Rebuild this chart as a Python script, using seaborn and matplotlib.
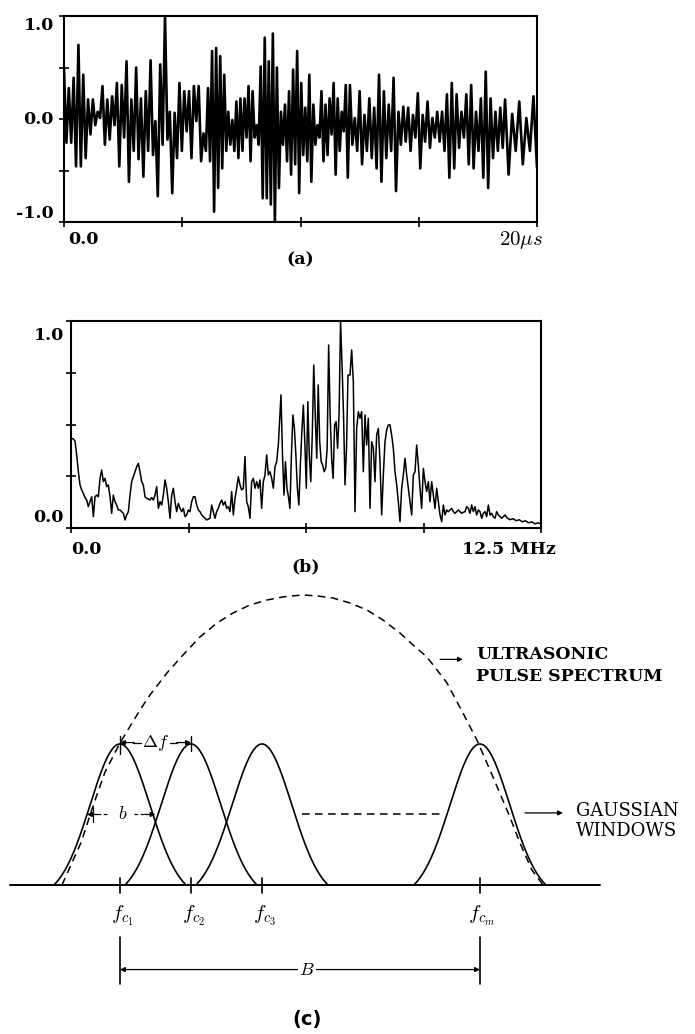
import numpy as np
import pandas as pd
import matplotlib
matplotlib.use("Agg")
import matplotlib.pyplot as plt
import seaborn as sns
from matplotlib.transforms import blended_transform_factory, ScaledTranslation

# ---------------- panel (a): ultrasonic echo (alternating peak / trough readings) ----------------
a_block_starts_us = [0.0, 6.09, 12.09, 18.65]
a_block_ends_us = [6.0, 12.0, 18.55, 20.0]
a_block1 = [0.48, -0.23, 0.30, -0.23, 0.40, -0.46, 0.72, -0.46, 0.43, -0.38, 0.19, -0.15,
            0.19, -0.06, 0.07, 0.01, 0.32, -0.25, 0.19, -0.20, 0.22, -0.06, 0.35, -0.46,
            0.33, -0.18, 0.56, -0.61, 0.19, -0.31, 0.50, -0.39, 0.20, -0.56, 0.27, -0.31,
            0.57, -0.35, -0.02, -0.75, 0.53, -0.25, 1.00, -0.20, 0.07, -0.72, 0.06, -0.38,
            0.35, -0.31, 0.27, -0.12, 0.27, -0.38, 0.32, -0.02, 0.32, -0.41, -0.14, -0.31]
a_block2 = [0.30, -0.41, 0.66, -0.90, 0.69, -0.67, 0.61, -0.48, 0.43, -0.31, 0.07, -0.25,
            -0.01, -0.31, 0.17, -0.38, 0.20, -0.31, 0.20, -0.18, 0.32, -0.41, 0.27, -0.18,
            -0.06, -0.25, 0.51, -0.77, 0.79, -0.77, 0.56, -0.83, 0.83, -1.00, 0.50, -0.67,
            0.07, -0.25, 0.14, -0.41, 0.27, -0.54, 0.48, -0.44, 0.66, -0.72, 0.35, -0.35,
            0.11, -0.41, 0.43, -0.61, 0.14, -0.25, -0.06, -0.18, 0.27, -0.41, 0.14, -0.35,
            0.20, -0.15, 0.35, -0.54, 0.20, -0.31, 0.07, -0.12, 0.33, -0.57]
a_block3 = [0.33, -0.25, 0.01, -0.31, 0.27, -0.44, 0.04, -0.31, 0.20, -0.38, 0.11, -0.48,
            0.43, -0.61, 0.27, -0.38, 0.14, -0.31, 0.40, -0.70, 0.07, -0.25, 0.12, -0.22,
            0.11, -0.31, 0.04, -0.18, 0.25, -0.48, 0.04, -0.22, 0.17, -0.28, 0.01, -0.18,
            0.07, -0.22, 0.07, -0.31, 0.24, -0.57, 0.35, -0.48, 0.24, -0.28, 0.07, -0.18,
            0.24, -0.44, 0.33, -0.48, 0.07, -0.31, 0.20, -0.57, 0.46, -0.67, 0.20, -0.38,
            0.07, -0.31, 0.11, -0.28]
a_block4 = [0.19, -0.54, 0.05, -0.31, 0.17, -0.44, 0.01, -0.31, 0.22, -0.47]
a_xticks = [0, 5, 10, 15, 20]
a_yticks = [-1.0, -0.5, 0.0, 0.5, 1.0]
a_ylabels = ["-1.0", "0.0", "1.0"]
a_ylabel_vals = [-1.0, 0.0, 1.0]

# ---------------- panel (b): magnitude spectrum ----------------
b_block_starts_mhz = [0.018, 3.741, 5.585, 7.420, 11.59]
b_block_ends_mhz = [3.697, 5.514, 7.367, 11.543, 12.5]
b_block1 = [0.433, 0.430, 0.420, 0.353, 0.272, 0.208, 0.184, 0.167, 0.147, 0.135, 0.103, 0.127,
            0.151, 0.055, 0.151, 0.159, 0.151, 0.240, 0.280, 0.224, 0.240, 0.200, 0.208, 0.151,
            0.071, 0.159, 0.127, 0.111, 0.087, 0.087, 0.079, 0.071, 0.039, 0.063, 0.079, 0.159,
            0.224, 0.248, 0.272, 0.296, 0.312, 0.272, 0.224, 0.208, 0.151, 0.143, 0.140, 0.135,
            0.147, 0.135, 0.159, 0.200, 0.095, 0.127, 0.111, 0.159, 0.232, 0.192, 0.127, 0.047,
            0.159, 0.192, 0.127, 0.079, 0.119, 0.095, 0.079, 0.095, 0.055, 0.063, 0.087, 0.079,
            0.127, 0.151, 0.151, 0.111, 0.087, 0.079, 0.063, 0.055, 0.047, 0.039, 0.043, 0.047]
b_block2 = [0.111, 0.079, 0.047, 0.079, 0.095, 0.119, 0.135, 0.111, 0.127, 0.095, 0.103, 0.079,
            0.176, 0.063, 0.143, 0.192, 0.248, 0.208, 0.184, 0.192, 0.345, 0.127, 0.103, 0.047,
            0.224, 0.240, 0.192, 0.224, 0.192, 0.232, 0.095, 0.224, 0.256, 0.353, 0.256, 0.272,
            0.240, 0.192, 0.296, 0.320, 0.401]
b_block3 = [0.643, 0.353, 0.159, 0.320, 0.192, 0.151, 0.095, 0.353, 0.546, 0.481, 0.353, 0.192,
            0.111, 0.304, 0.465, 0.594, 0.417, 0.192, 0.610, 0.353, 0.224, 0.449, 0.787, 0.546,
            0.337, 0.691, 0.417, 0.320, 0.304, 0.272, 0.288, 0.385, 0.884, 0.546, 0.337, 0.240,
            0.498, 0.514, 0.385, 0.546, 0.997, 0.787, 0.546, 0.208, 0.385, 0.739]
b_block4 = [0.739, 0.860, 0.707, 0.079, 0.481, 0.562, 0.530, 0.562, 0.272, 0.546, 0.401, 0.530,
            0.095, 0.417, 0.385, 0.224, 0.449, 0.481, 0.320, 0.063, 0.256, 0.417, 0.473, 0.498,
            0.498, 0.449, 0.385, 0.272, 0.208, 0.127, 0.031, 0.192, 0.256, 0.337, 0.256, 0.192,
            0.127, 0.063, 0.256, 0.272, 0.401, 0.304, 0.192, 0.095, 0.288, 0.224, 0.176, 0.224,
            0.127, 0.224, 0.159, 0.095, 0.192, 0.127, 0.063, 0.031, 0.111, 0.063, 0.087, 0.079,
            0.087, 0.095, 0.079, 0.071, 0.079, 0.087, 0.079, 0.071, 0.076, 0.079, 0.103, 0.095,
            0.071, 0.111, 0.079, 0.103, 0.063, 0.087, 0.079, 0.047, 0.071, 0.079, 0.055, 0.111,
            0.063, 0.071, 0.055, 0.047, 0.079, 0.063, 0.055, 0.047, 0.055, 0.063]
b_block5 = [0.050, 0.040, 0.045, 0.035, 0.040, 0.030, 0.035, 0.025, 0.030, 0.020, 0.025, 0.020]
b_xticks = [0, 3.125, 6.25, 9.375, 12.5]
b_yticks = [0.0, 0.25, 0.5, 0.75, 1.0]
b_ylabels = ["0.0", "1.0"]
b_ylabel_vals = [0.0, 1.0]

# ---------------- panel (c): Gaussian windows over the pulse spectrum (units of delta f) ----------------
fc_centers = [1.0, 2.0, 3.0, 6.07]
fc_labels = [r"$f_{c_1}$", r"$f_{c_2}$", r"$f_{c_3}$", r"$f_{c_m}$"]
window_sigma = 0.42
window_half_support = 0.93
envelope_f = [0.183, 0.451, 0.634, 0.789, 1.0, 1.282, 1.423, 1.662, 1.888, 2.127, 2.367,
              2.592, 2.832, 3.070, 3.296, 3.577, 3.775, 4.0, 4.240, 4.479, 4.705, 4.944,
              5.128, 5.324, 5.466, 5.606, 5.831, 6.028, 6.254, 6.493, 6.634, 6.803, 6.958]
envelope_h = [0.0, 0.30, 0.58, 0.80, 1.007, 1.241, 1.348, 1.504, 1.631, 1.759, 1.858,
              1.929, 1.986, 2.021, 2.043, 2.057, 2.050, 2.035, 2.0, 1.950, 1.879, 1.787,
              1.702, 1.617, 1.525, 1.433, 1.220, 1.028, 0.766, 0.482, 0.298, 0.106, 0.0]
baseline_span = [-0.55, 7.76]

# ---------------- style ----------------
sns.set_theme(style="white", rc={"axes.edgecolor": "black", "xtick.color": "black",
                                 "ytick.color": "black", "text.color": "black"})
plt.rcParams["font.family"] = ["DejaVu Serif", "DejaVu Sans"]
plt.rcParams["mathtext.fontset"] = "cm"

W, H = 695, 1034
fig = plt.figure(figsize=(W / 100, H / 100), dpi=100)


def px_axes(l, t, r, b):
    return fig.add_axes([l / W, 1 - b / H, (r - l) / W, (b - t) / H])


def fig_text(x, y, s, **kw):
    fig.text(x / W, 1 - y / H, s, **kw)


def block_axis(starts, ends, blocks):
    return np.concatenate([np.linspace(s, e, len(b)) for s, e, b in zip(starts, ends, blocks)])


bold = dict(fontweight="bold", fontsize=12.5, family="DejaVu Serif")


def frame(ax, xlim, ylim, xticks, yticks):
    ax.set_xlim(*xlim)
    ax.set_ylim(*ylim)
    ax.set_xticks(xticks)
    ax.set_yticks(yticks)
    ax.set_xticklabels([])
    ax.set_yticklabels([])
    ax.tick_params(direction="inout", length=7, width=1.2, bottom=True, left=True)
    for sp in ax.spines.values():
        sp.set_linewidth(1.5)
        sp.set_color("black")
    ax.set_xlabel("")
    ax.set_ylabel("")


def ylab(ax, yval, s, dx_px, dy_px):
    tr = blended_transform_factory(ax.transAxes, ax.transData) + \
        ScaledTranslation(-dx_px / 100, dy_px / 100, fig.dpi_scale_trans)
    ax.text(0, yval, s, transform=tr, ha="right", va="center", **bold)


# ---- panel (a)
ax_a = px_axes(64, 16, 537, 222)
t_a = block_axis(a_block_starts_us, a_block_ends_us, [a_block1, a_block2, a_block3, a_block4])
v_a = np.concatenate([a_block1, a_block2, a_block3, a_block4])
df_a = pd.DataFrame({"t": t_a, "v": v_a})
sns.lineplot(data=df_a, x="t", y="v", ax=ax_a, color="black", linewidth=1.9,
             estimator=None, sort=False)
frame(ax_a, (0, 20), (-1, 1), a_xticks, a_yticks)
for val, lab, dy in zip(a_ylabel_vals, a_ylabels, [9, 0, -9]):
    ylab(ax_a, val, lab, 10, dy)
fig_text(68, 240, "0.0", ha="left", va="center", **bold)
fig_text(543, 240, r"$20\mu s$", ha="right", va="center", fontsize=15)
fig_text(300, 260, "(a)", ha="center", va="center", **bold)

# ---- panel (b)
ax_b = px_axes(71, 321, 541, 528)
f_b = block_axis(b_block_starts_mhz, b_block_ends_mhz,
                 [b_block1, b_block2, b_block3, b_block4, b_block5])
v_b = np.concatenate([b_block1, b_block2, b_block3, b_block4, b_block5])
df_b = pd.DataFrame({"f": f_b, "v": v_b})
sns.lineplot(data=df_b, x="f", y="v", ax=ax_b, color="black", linewidth=1.1,
             estimator=None, sort=False)
frame(ax_b, (0, 12.5), (0, 1), b_xticks, b_yticks)
for val, lab, dy in zip(b_ylabel_vals, b_ylabels, [11, -14]):
    ylab(ax_b, val, lab, 7, dy)
fig_text(71, 549, "0.0", ha="left", va="center", **bold)
fig_text(556, 549, "12.5 MHz", ha="right", va="center", **bold)
fig_text(306, 567, "(b)", ha="center", va="center", **bold)

# ---- panel (c)
ax_c = fig.add_axes([0, 0, 1, 444 / H])
ax_c.set_xlim(-0.69, 9.10)
ax_c.set_ylim(-1.057, 2.092)
ax_c.axis("off")
lw_c = 1.2

ax_c.plot(baseline_span, [0, 0], color="black", lw=1.4)

c0 = np.exp(-window_half_support ** 2 / (2 * window_sigma ** 2))


def window(d):
    return (np.exp(-d ** 2 / (2 * window_sigma ** 2)) - c0) / (1 - c0)


for fc in fc_centers:
    ff = np.linspace(fc - window_half_support, fc + window_half_support, 200)
    sns.lineplot(x=ff, y=window(ff - fc), ax=ax_c, color="black", linewidth=lw_c,
                 estimator=None, sort=False)

ax_c.plot(envelope_f, envelope_h, color="black", lw=1.1, ls=(0, (5, 3.5)))

d_half = window_sigma * np.sqrt(-2 * np.log(0.5 * (1 - c0) + c0))
step = fc_centers[1] - fc_centers[0]

# dashed continuation between 3rd and m-th window
ax_c.plot([fc_centers[2] + d_half + 0.1, fc_centers[-1] - d_half - 0.1], [0.5, 0.5],
          color="black", lw=1.1, ls=(0, (5, 3.5)))

# centre ticks and labels
for fc, lab in zip(fc_centers, fc_labels):
    ax_c.plot([fc, fc], [0.05, -0.06], color="black", lw=1.2)
    ax_c.text(fc + 0.03, -0.22, lab, ha="center", va="center", fontsize=15)

arrow_kw = dict(arrowstyle="-|>", color="black", lw=0.9, mutation_scale=7,
                shrinkA=0, shrinkB=0)

# delta f
yd = 1.01
ax_c.annotate("", xy=(fc_centers[0], yd), xytext=(fc_centers[0] + 0.2, yd), arrowprops=arrow_kw)
ax_c.annotate("", xy=(fc_centers[1], yd), xytext=(fc_centers[1] - 0.2, yd), arrowprops=arrow_kw)
ax_c.plot([fc_centers[0] + 0.19, fc_centers[0] + 0.30], [yd, yd], color="black", lw=0.9)
ax_c.plot([fc_centers[1] - 0.30, fc_centers[1] - 0.19], [yd, yd], color="black", lw=0.9)
ax_c.plot([fc_centers[0], fc_centers[0]], [0.93, 1.06], color="black", lw=1.0)
ax_c.plot([fc_centers[1], fc_centers[1]], [0.95, 1.06], color="black", lw=1.0)
ax_c.text((fc_centers[0] + fc_centers[1]) / 2, yd, r"$\Delta f$", ha="center", va="center",
          fontsize=13)

# b
x_b0 = fc_centers[0] - d_half
x_b1 = fc_centers[0] + step / 2
ax_c.annotate("", xy=(x_b0, 0.5), xytext=(x_b0 + 0.15, 0.5), arrowprops=arrow_kw)
ax_c.annotate("", xy=(x_b1, 0.5), xytext=(x_b1 - 0.15, 0.5), arrowprops=arrow_kw)
ax_c.plot([x_b0 + 0.14, x_b0 + 0.3], [0.5, 0.5], color="black", lw=0.9, ls=(0, (3, 2)))
ax_c.plot([x_b1 - 0.3, x_b1 - 0.14], [0.5, 0.5], color="black", lw=0.9, ls=(0, (3, 2)))
ax_c.plot([x_b0 + 0.08, x_b0 + 0.08], [0.45, 0.55], color="black", lw=0.9)
ax_c.text((x_b0 + x_b1) / 2 + 0.02, 0.5, r"$b$", ha="center", va="center", fontsize=13)

# B
yB = -0.60
for fc in (fc_centers[0], fc_centers[-1]):
    ax_c.plot([fc, fc], [-0.37, -0.70], color="black", lw=1.2)
ax_c.annotate("", xy=(fc_centers[0], yB), xytext=(fc_centers[-1], yB),
              arrowprops=dict(arrowstyle="<|-|>", color="black", lw=0.9, mutation_scale=7,
                              shrinkA=0, shrinkB=0))
ax_c.text((fc_centers[0] + fc_centers[-1]) / 2 + 0.1, yB, r"$B$", ha="center", va="center",
          fontsize=13, bbox=dict(facecolor="white", edgecolor="none", pad=1.0))

# labels with arrows
ax_c.annotate("", xy=(5.83, 1.60), xytext=(5.51, 1.60), arrowprops=arrow_kw)
ax_c.text(6.015, 1.631, "ULTRASONIC", ha="left", va="center", fontsize=12.5,
          fontweight="bold", family="DejaVu Serif")
ax_c.text(6.015, 1.482, "PULSE SPECTRUM", ha="left", va="center", fontsize=12.5,
          fontweight="bold", family="DejaVu Serif")
ax_c.annotate("", xy=(7.24, 0.511), xytext=(6.705, 0.511), arrowprops=arrow_kw)
ax_c.text(7.424, 0.525, "GAUSSIAN", ha="left", va="center", fontsize=13, family="DejaVu Serif")
ax_c.text(7.424, 0.383, "WINDOWS", ha="left", va="center", fontsize=13, family="DejaVu Serif")

ax_c.text(3.634, -0.957, "(c)", ha="center", va="center", fontsize=14, fontweight="bold",
          family="DejaVu Sans")

fig.savefig("out.png", dpi=100)
